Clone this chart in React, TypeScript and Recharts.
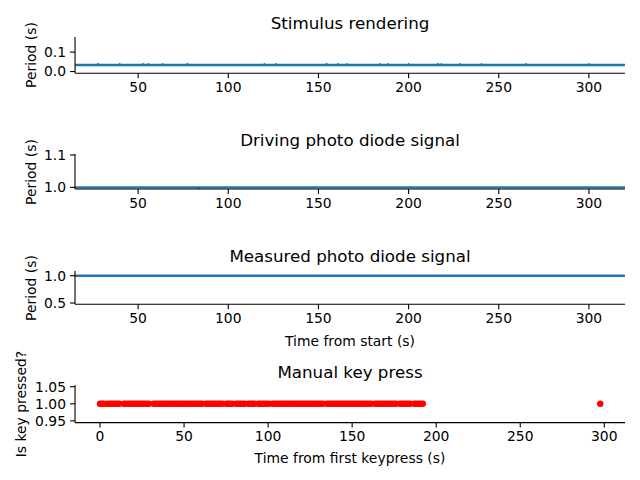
import React from "react";
import { ComposedChart, Line, Scatter, XAxis, YAxis } from "recharts";

const FONT = "'DejaVu Sans', sans-serif";
const BLUE = "#1f77b4";

// Stimulus rendering: frame period (s), flat with tiny blips
const stimTimes = [
  15, 27.3, 27.7, 28.1, 39.4, 39.8, 40.2, 52.3, 52.7, 53.1, 55.3, 55.7, 56.1, 63.2, 63.6, 64.0,
  76.9, 77.3, 77.7, 119.6, 120.0, 120.4, 126.2, 126.6, 127.0, 154.1, 154.5, 154.9, 160.5, 160.9,
  161.3, 165.5, 165.9, 166.3, 183.6, 184.0, 184.4, 188.2, 188.6, 189.0, 199.6, 200.0, 200.4,
  216.0, 216.4, 216.8, 217.8, 218.2, 218.6, 228.0, 228.4, 228.8, 240.1, 240.5, 240.9, 264.8,
  265.2, 265.6, 299.6, 300.0, 300.4, 320,
];
const stimPeriods = [
  0.0333, 0.0333, 0.0372, 0.0333, 0.0333, 0.0368, 0.0333, 0.0333, 0.037, 0.0333, 0.0333, 0.0366,
  0.0333, 0.0333, 0.0368, 0.0333, 0.0333, 0.0371, 0.0333, 0.0333, 0.0367, 0.0333, 0.0333, 0.0369,
  0.0333, 0.0333, 0.0372, 0.0333, 0.0333, 0.0367, 0.0333, 0.0333, 0.0366, 0.0333, 0.0333, 0.037,
  0.0333, 0.0333, 0.0368, 0.0333, 0.0333, 0.0369, 0.0333, 0.0333, 0.0371, 0.0333, 0.0333, 0.0366,
  0.0333, 0.0333, 0.0368, 0.0333, 0.0333, 0.037, 0.0333, 0.0333, 0.0367, 0.0333, 0.0333, 0.0369,
  0.0333, 0.0333,
];

// Driving photo diode: period (s)
const driveTimes = [15, 83.0, 83.5, 84.0, 320];
const drivePeriods = [1.0, 1.0, 0.996, 1.0, 1.0];

// Measured photo diode: period (s)
const measTimes = [15, 100, 200, 320];
const measPeriods = [1.0, 1.0, 1.0, 1.0];

// Manual key press times (s from first keypress)
const keyTimes = [
  0, 1.2, 2.3, 4.1, 5.3, 6.6, 7.8, 9.0, 10.3, 11.5, 14.2, 15.4, 16.7, 17.9, 19.1, 20.4, 21.6, 22.8,
  24.1, 25.3, 26.6, 27.8, 29.0, 31.9, 33.1, 34.4, 35.6, 36.9, 38.1, 39.4, 40.6, 41.9, 43.1, 44.4,
  45.6, 46.9, 48.1, 49.4, 50.6, 51.9, 53.1, 54.4, 55.6, 56.9, 58.1, 59.4, 60.6, 62.8, 64.0, 65.3,
  66.5, 67.8, 69.0, 70.3, 71.5, 72.8, 75.0, 76.3, 77.5, 78.8, 81.0, 82.3, 83.5, 84.8, 86.0, 88.2,
  89.5, 90.7, 91.9, 94.2, 95.4, 96.7, 97.9, 99.1, 100.4, 102.6, 103.9, 105.1, 106.4, 107.6, 108.9,
  110.1, 111.4, 112.6, 113.9, 115.1, 116.4, 117.6, 118.9, 120.1, 121.4, 122.6, 123.9, 125.1, 126.4,
  127.6, 128.9, 130.1, 131.4, 132.6, 135.0, 136.3, 137.5, 138.8, 140.0, 141.3, 142.5, 143.8, 145.0,
  146.3, 147.5, 148.8, 150.0, 151.3, 152.5, 153.8, 155.0, 156.3, 157.5, 158.8, 160.0, 161.3, 163.6,
  164.9, 166.1, 167.4, 168.6, 169.9, 171.1, 172.4, 173.6, 174.9, 176.1, 178.4, 179.6, 180.9, 182.1,
  183.4, 184.6, 187.0, 188.2, 189.5, 190.7, 192.0, 297.6,
];

const startTicks = [50, 100, 150, 200, 250, 300];
const keyTicks = [0, 50, 100, 150, 200, 250, 300];

const toRows = (ts: number[], vs: number[]) => ts.map((t, i) => ({ t, v: vs[i] }));
const stimData = toRows(stimTimes, stimPeriods);
const driveData = toRows(driveTimes, drivePeriods);
const measData = toRows(measTimes, measPeriods);
const keyData = keyTimes.map((t) => ({ t, v: 1 }));

const tickStyle = { fill: "#000", fontSize: 13.9, fontFamily: FONT };

type PanelProps = {
  plotTop: number;
  plotBottom: number;
  xDomain: [number, number];
  xTicks: number[];
  yDomain: [number, number];
  yTicks: number[];
  yDigits: number;
  children: React.ReactNode;
};

function Panel({ plotTop, plotBottom, xDomain, xTicks, yDomain, yTicks, yDigits, children }: PanelProps) {
  const padTop = 6;
  const axisH = 32;
  const h = plotBottom - plotTop + padTop + axisH;
  return (
    <div style={{ position: "absolute", left: 0, top: plotTop - padTop }}>
      <ComposedChart width={640} height={h} margin={{ top: padTop, right: 15, bottom: 0, left: 0 }}>
        <XAxis
          type="number"
          dataKey="t"
          domain={xDomain}
          ticks={xTicks}
          interval={0}
          allowDataOverflow
          height={axisH}
          tickSize={5}
          tickMargin={4}
          tick={tickStyle}
          tickLine={{ stroke: "#000", strokeWidth: 1.1 }}
          axisLine={{ stroke: "#000", strokeWidth: 1.1 }}
        />
        <YAxis
          type="number"
          dataKey="v"
          domain={yDomain}
          ticks={yTicks}
          interval={0}
          allowDataOverflow
          width={75}
          tickSize={5}
          tickMargin={4}
          tick={tickStyle}
          tickLine={{ stroke: "#000", strokeWidth: 1.1 }}
          axisLine={{ stroke: "#000", strokeWidth: 1.1 }}
          tickFormatter={(v: number) => v.toFixed(yDigits)}
        />
        {children}
      </ComposedChart>
    </div>
  );
}

function Title({ text, cy }: { text: string; cy: number }) {
  return (
    <div
      style={{
        position: "absolute",
        left: 75,
        width: 550,
        top: cy - 10,
        lineHeight: "20px",
        textAlign: "center",
        fontSize: 16.7,
        fontFamily: FONT,
        color: "#000",
      }}
    >
      {text}
    </div>
  );
}

function AxisTitle({ text, cx, cy, rotate }: { text: string; cx: number; cy: number; rotate?: boolean }) {
  return (
    <div
      style={{
        position: "absolute",
        left: cx,
        top: cy,
        transform: `translate(-50%, -50%)${rotate ? " rotate(-90deg)" : ""}`,
        whiteSpace: "nowrap",
        fontSize: 13.9,
        fontFamily: FONT,
        color: "#000",
        lineHeight: "16px",
      }}
    >
      {text}
    </div>
  );
}

export default function App() {
  return (
    <div style={{ position: "absolute", left: 0, top: 0, width: 640, height: 480, background: "#fff", overflow: "hidden" }}>
      <Title text="Stimulus rendering" cy={23} />
      <Panel plotTop={37.2} plotBottom={73.4} xDomain={[15, 320]} xTicks={startTicks} yDomain={[-0.0086, 0.178]} yTicks={[0, 0.1]} yDigits={1}>
        <Line data={stimData} dataKey="v" stroke={BLUE} strokeWidth={2.4} dot={false} isAnimationActive={false} />
      </Panel>
      <AxisTitle text="Period (s)" cx={31} cy={55.3} rotate />

      <Title text="Driving photo diode signal" cy={140} />
      <Panel plotTop={154} plotBottom={189} xDomain={[15, 320]} xTicks={startTicks} yDomain={[0.995, 1.103]} yTicks={[1.0, 1.1]} yDigits={1}>
        <Line data={driveData} dataKey="v" stroke={BLUE} strokeWidth={2.4} dot={false} isAnimationActive={false} />
      </Panel>
      <AxisTitle text="Period (s)" cx={31} cy={171.5} rotate />

      <Title text="Measured photo diode signal" cy={256} />
      <Panel plotTop={271} plotBottom={304.3} xDomain={[15, 320]} xTicks={startTicks} yDomain={[0.476, 1.086]} yTicks={[0.5, 1.0]} yDigits={1}>
        <Line data={measData} dataKey="v" stroke={BLUE} strokeWidth={2.4} dot={false} isAnimationActive={false} />
      </Panel>
      <AxisTitle text="Period (s)" cx={31} cy={287.6} rotate />
      <AxisTitle text="Time from start (s)" cx={350} cy={341} />

      <Title text="Manual key press" cy={372} />
      <Panel plotTop={384.7} plotBottom={422.3} xDomain={[-14.87, 312.3]} xTicks={keyTicks} yDomain={[0.945, 1.055]} yTicks={[0.95, 1.0, 1.05]} yDigits={2}>
        <Scatter
          data={keyData}
          dataKey="v"
          fill="#ff0000"
          isAnimationActive={false}
          shape={(p: any) => <circle cx={p.cx} cy={p.cy} r={3.2} fill="#ff0000" />}
        />
      </Panel>
      <AxisTitle text="Is key pressed?" cx={21} cy={403.5} rotate />
      <AxisTitle text="Time from first keypress (s)" cx={350} cy={458} />
    </div>
  );
}
